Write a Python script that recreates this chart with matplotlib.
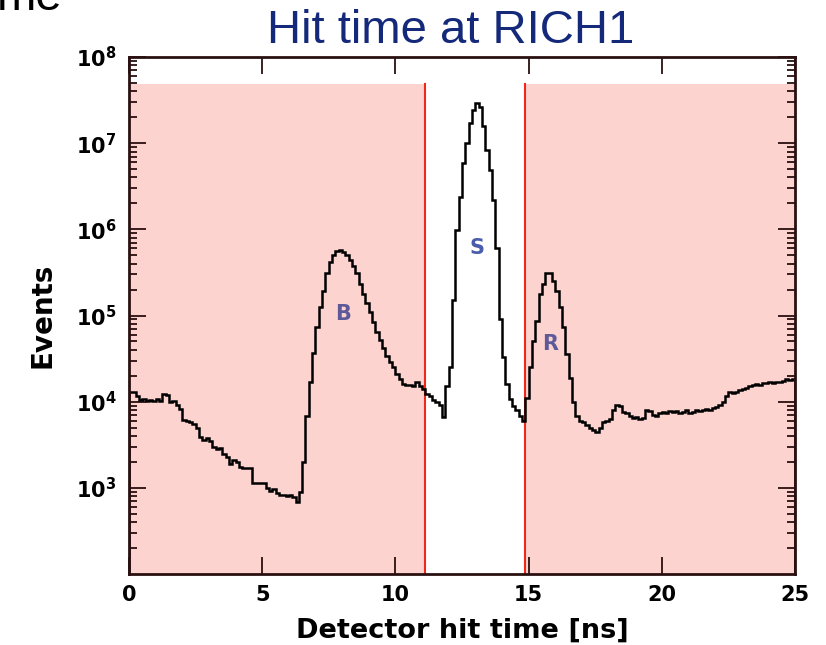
import numpy as np
import matplotlib
matplotlib.use("Agg")
import matplotlib.pyplot as plt
from matplotlib.patches import Rectangle
from matplotlib.ticker import FixedLocator, FixedFormatter, LogLocator, NullFormatter

plt.rcParams['font.family'] = ['Liberation Sans', 'DejaVu Sans']
plt.rcParams['mathtext.fontset'] = 'dejavusans'

# ---- data ----
bin_width = 0.125  # ns
counts = [
    1.28e4, 1.28e4, 1.15e4, 1.05e4, 1.08e4, 1.02e4, 1.05e4, 1.02e4,   # 0-1
    1.08e4, 1.02e4, 1.22e4, 1.18e4, 1.0e4, 1.03e4, 9.2e3, 8.2e3,      # 1-2
    6.2e3, 6.0e3, 5.8e3, 5.5e3, 4.9e3, 3.9e3, 3.6e3, 3.8e3,           # 2-3
    3.5e3, 3.0e3, 2.8e3, 2.9e3, 2.5e3, 2.3e3, 1.9e3, 2.1e3,           # 3-4
    2.0e3, 1.75e3, 1.7e3, 1.7e3, 1.7e3, 1.15e3, 1.15e3, 1.15e3,       # 4-5
    1.15e3, 1.0e3, 920, 980, 880, 820, 830, 800,                      # 5-6
    820, 780, 680, 900, 2.0e3, 6.9e3, 1.7e4, 3.7e4,                   # 6-7
    7.3e4, 1.26e5, 1.95e5, 3.1e5, 4.2e5, 5.0e5, 5.6e5, 5.7e5,         # 7-8
    5.5e5, 5.0e5, 4.4e5, 3.8e5, 3.1e5, 2.3e5, 1.8e5, 1.4e5,           # 8-9
    1.1e5, 8.5e4, 6.5e4, 5.2e4, 4.2e4, 3.4e4, 2.9e4, 2.5e4,           # 9-10
    2.1e4, 1.85e4, 1.6e4, 1.55e4, 1.55e4, 1.5e4, 1.67e4, 1.5e4,       # 10-11
    1.4e4, 1.23e4, 1.15e4, 1.05e4, 1.0e4, 9.2e3, 6.6e3, 1.5e4,        # 11-12
    2.5e4, 1.5e5, 9.7e5, 2.4e6, 5.9e6, 1.0e7, 1.7e7, 2.4e7,           # 12-13
    2.9e7, 2.6e7, 1.6e7, 8.3e6, 4.9e6, 2.2e6, 6.0e5, 9.0e4,           # 13-14
    3.3e4, 1.6e4, 1.07e4, 8.9e3, 7.9e3, 6.8e3, 6.0e3, 1.1e4,          # 14-15
    2.5e4, 5.1e4, 8.7e4, 1.8e5, 2.3e5, 3.1e5, 3.1e5, 2.5e5,           # 15-16
    1.9e5, 1.25e5, 7.3e4, 3.6e4, 1.9e4, 1.0e4, 6.9e3, 6.0e3,          # 16-17
    5.8e3, 5.3e3, 5.0e3, 4.7e3, 4.5e3, 5.0e3, 5.8e3, 6.0e3,           # 17-18
    6.3e3, 8.0e3, 9.2e3, 8.8e3, 7.6e3, 7.3e3, 6.8e3, 6.5e3,           # 18-19
    6.7e3, 6.3e3, 6.5e3, 7.9e3, 7.8e3, 7.0e3, 6.9e3, 7.3e3,           # 19-20
    7.6e3, 7.4e3, 7.7e3, 7.5e3, 7.8e3, 7.3e3, 7.6e3, 7.9e3,           # 20-21
    7.4e3, 7.5e3, 7.9e3, 7.8e3, 8.0e3, 8.2e3, 8.0e3, 8.5e3,           # 21-22
    8.6e3, 9.2e3, 1.0e4, 1.15e4, 1.3e4, 1.25e4, 1.3e4, 1.35e4,        # 22-23
    1.4e4, 1.45e4, 1.5e4, 1.55e4, 1.6e4, 1.55e4, 1.65e4, 1.65e4,      # 23-24
    1.7e4, 1.65e4, 1.7e4, 1.7e4, 1.75e4, 1.85e4, 1.8e4, 1.85e4,       # 24-25
]
cut_low = 11.1      # ns, left edge of signal window
cut_high = 14.85    # ns, right edge of signal window
shade_top = 4.85e7
x_ticks = [0, 5, 10, 15, 20, 25]
y_ticks = [1e3, 1e4, 1e5, 1e6, 1e7, 1e8]
y_tick_labels = [r'$\mathbf{10^{3}}$', r'$\mathbf{10^{4}}$', r'$\mathbf{10^{5}}$',
                 r'$\mathbf{10^{6}}$', r'$\mathbf{10^{7}}$', r'$\mathbf{10^{8}}$']
peak_labels = ['B', 'S', 'R']
peak_x = [8.05, 13.05, 15.8]
peak_y = [1.05e5, 6.0e5, 4.7e4]
peak_colors = ['#5e5a9a', '#4a5cac', '#5e5a9a']

# ---- figure ----
fig = plt.figure(figsize=(8.26, 6.45), dpi=100)
ax = fig.add_axes([129/826, 1-574/645, (795-129)/826, (574-57)/645])

edges = np.arange(len(counts) + 1) * bin_width
ax.set_xlim(0, 25)
ax.set_yscale('log')
ax.set_ylim(1e2, 1e8)

pink = '#fcd3cf'
ax.add_patch(Rectangle((0, 1e2), cut_low, shade_top - 1e2, facecolor=pink,
                       edgecolor='none', zorder=0))
ax.add_patch(Rectangle((cut_high, 1e2), 25 - cut_high, shade_top - 1e2,
                       facecolor=pink, edgecolor='none', zorder=0))
for xc in (cut_low, cut_high):
    ax.plot([xc, xc], [1e2, shade_top], color='#f0281c', lw=1.5, zorder=1)

ax.stairs(counts, edges, color='black', lw=1.8, zorder=2)

for lab, px, py, c in zip(peak_labels, peak_x, peak_y, peak_colors):
    ax.text(px, py, lab, color=c, fontsize=15, fontweight='bold',
            family='DejaVu Sans', ha='center', va='center', zorder=3)

# ticks
ax.xaxis.set_major_locator(FixedLocator(x_ticks))
ax.set_xticklabels([str(v) for v in x_ticks])
ax.xaxis.set_minor_locator(FixedLocator([]))
ax.yaxis.set_major_locator(FixedLocator(y_ticks))
ax.yaxis.set_major_formatter(FixedFormatter(y_tick_labels))
ax.yaxis.set_minor_locator(LogLocator(base=10, subs=np.arange(2, 10)))
ax.yaxis.set_minor_formatter(NullFormatter())
ax.tick_params(which='both', direction='in', top=True, right=True,
               color='#2a1010', width=1.3)
ax.tick_params(which='major', length=12)
ax.tick_params(axis='x', which='major', labelsize=15, pad=8)
ax.tick_params(axis='y', which='major', labelsize=15, pad=9)
ax.tick_params(axis='y', which='minor', length=6)
for lab in ax.get_xticklabels():
    lab.set_fontweight('bold')
    lab.set_family('DejaVu Sans')
for sp in ax.spines.values():
    sp.set_linewidth(2.0)
    sp.set_color('#2a1010')

ax.set_xlabel('Detector hit time [ns]', fontsize=19.5, fontweight='bold',
              family='DejaVu Sans', labelpad=9)
ax.set_ylabel('Events', fontsize=20, fontweight='bold',
              family='DejaVu Sans', labelpad=14)

fig.text(451/826, 1-31/645, 'Hit time at RICH1', color='#14297a', fontsize=34,
         ha='center', va='center')
fig.text(-0.004, 1-10/645, 'me', color='black', fontsize=34, ha='left', va='baseline')

fig.savefig('out.png', dpi=100)
